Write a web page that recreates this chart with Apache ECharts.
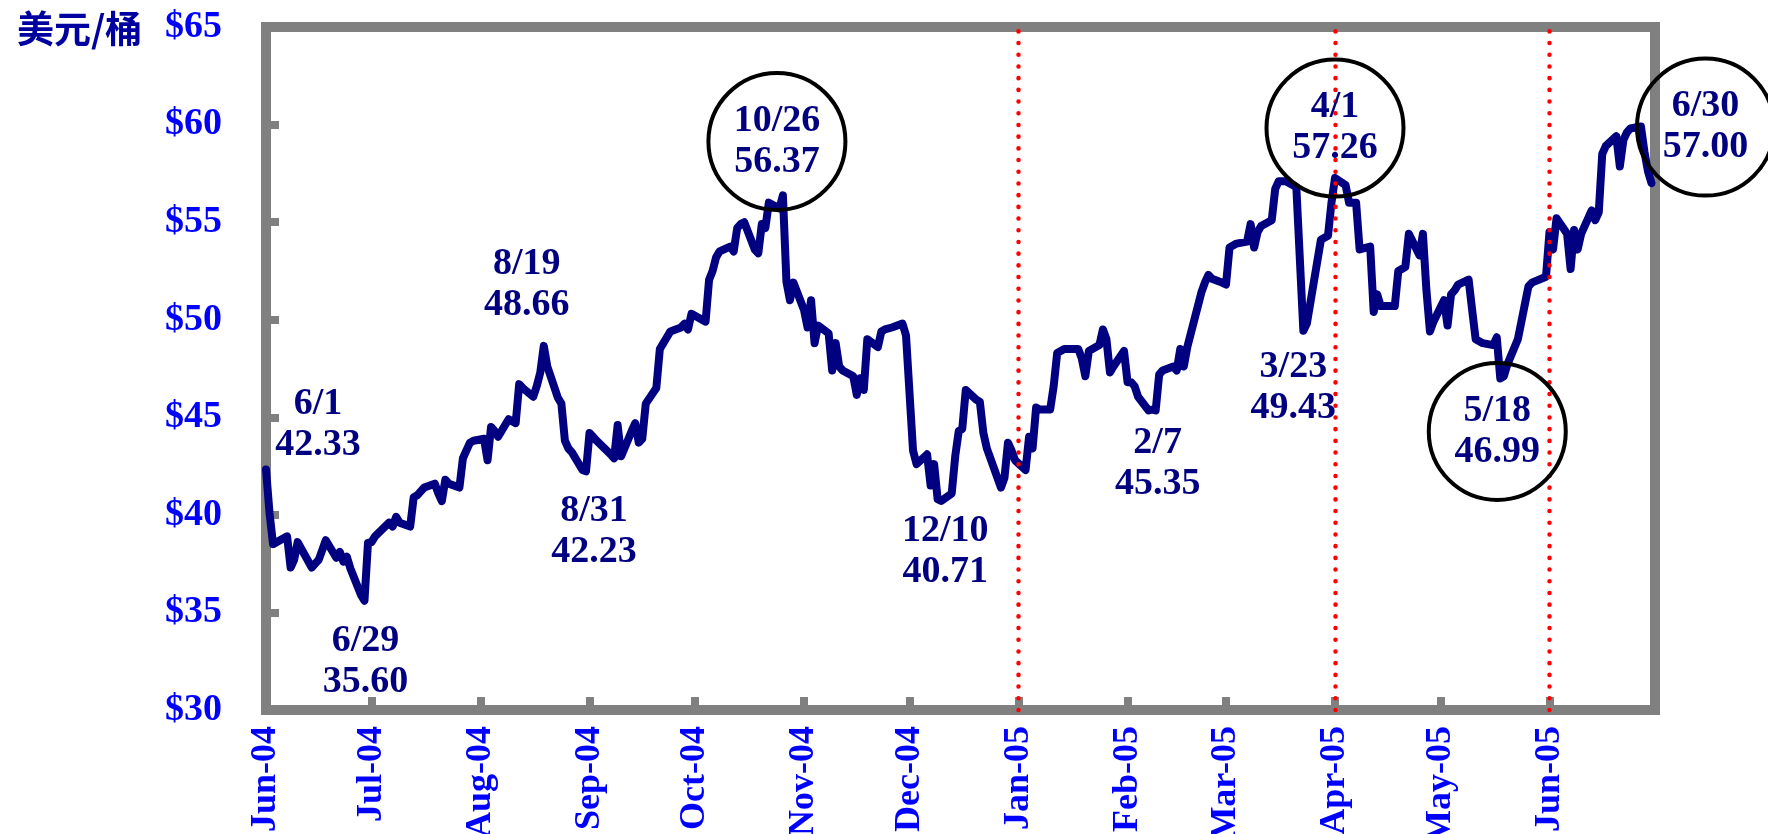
<!DOCTYPE html>
<html>
<head>
<meta charset="utf-8">
<title>原油價格</title>
<script src="https://cdn.jsdelivr.net/npm/echarts@6/dist/echarts.min.js"></script>
<style>
  html, body { margin: 0; padding: 0; background: #fff; }
  #main { width: 1768px; height: 834px; }
</style>
</head>
<body>
<div id="main"></div>
<script>
// 日期與價格
const dates = [
  '2004-06-01','2004-06-02','2004-06-03','2004-06-04','2004-06-07','2004-06-08','2004-06-09','2004-06-10',
  '2004-06-14','2004-06-15','2004-06-16','2004-06-17','2004-06-18','2004-06-21','2004-06-22','2004-06-23',
  '2004-06-24','2004-06-25','2004-06-28','2004-06-29','2004-06-30',
  '2004-07-01','2004-07-02','2004-07-06','2004-07-07','2004-07-08','2004-07-09','2004-07-12','2004-07-13',
  '2004-07-14','2004-07-15','2004-07-16','2004-07-19','2004-07-20','2004-07-21','2004-07-22','2004-07-23',
  '2004-07-26','2004-07-27','2004-07-28','2004-07-29','2004-07-30',
  '2004-08-02','2004-08-03','2004-08-04','2004-08-05','2004-08-06','2004-08-09','2004-08-10','2004-08-11',
  '2004-08-12','2004-08-13','2004-08-16','2004-08-17','2004-08-18','2004-08-19','2004-08-20','2004-08-23',
  '2004-08-24','2004-08-25','2004-08-26','2004-08-27','2004-08-30','2004-08-31',
  '2004-09-01','2004-09-02','2004-09-03','2004-09-07','2004-09-08','2004-09-09','2004-09-10','2004-09-13',
  '2004-09-14','2004-09-15','2004-09-16','2004-09-17','2004-09-20','2004-09-21','2004-09-22','2004-09-23',
  '2004-09-24','2004-09-27','2004-09-28','2004-09-29','2004-09-30',
  '2004-10-01','2004-10-04','2004-10-05','2004-10-06','2004-10-07','2004-10-08','2004-10-11','2004-10-12',
  '2004-10-13','2004-10-14','2004-10-15','2004-10-18','2004-10-19','2004-10-20','2004-10-21','2004-10-22',
  '2004-10-25','2004-10-26','2004-10-27','2004-10-28','2004-10-29',
  '2004-11-01','2004-11-02','2004-11-03','2004-11-04','2004-11-05','2004-11-08','2004-11-09','2004-11-10',
  '2004-11-11','2004-11-12','2004-11-15','2004-11-16','2004-11-17','2004-11-18','2004-11-19','2004-11-22',
  '2004-11-23','2004-11-24','2004-11-26','2004-11-29','2004-11-30',
  '2004-12-02','2004-12-03','2004-12-06','2004-12-07','2004-12-08','2004-12-09','2004-12-10','2004-12-13',
  '2004-12-14','2004-12-15','2004-12-16','2004-12-17','2004-12-20','2004-12-21','2004-12-22','2004-12-23',
  '2004-12-27','2004-12-28','2004-12-29','2004-12-30','2004-12-31',
  '2005-01-03','2005-01-04','2005-01-05','2005-01-06','2005-01-07','2005-01-10','2005-01-11','2005-01-12',
  '2005-01-13','2005-01-14','2005-01-18','2005-01-19','2005-01-20','2005-01-21','2005-01-24','2005-01-25',
  '2005-01-26','2005-01-27','2005-01-28','2005-01-31',
  '2005-02-01','2005-02-02','2005-02-03','2005-02-04','2005-02-07','2005-02-08','2005-02-09','2005-02-10',
  '2005-02-11','2005-02-14','2005-02-15','2005-02-16','2005-02-17','2005-02-18','2005-02-22','2005-02-23',
  '2005-02-24','2005-02-25','2005-02-28',
  '2005-03-01','2005-03-02','2005-03-03','2005-03-04','2005-03-07','2005-03-08','2005-03-09','2005-03-10',
  '2005-03-11','2005-03-14','2005-03-15','2005-03-16','2005-03-17','2005-03-18','2005-03-21','2005-03-23',
  '2005-03-24','2005-03-28','2005-03-29','2005-03-30','2005-03-31',
  '2005-04-01','2005-04-04','2005-04-05','2005-04-06','2005-04-07','2005-04-08','2005-04-11','2005-04-12',
  '2005-04-13','2005-04-14','2005-04-15','2005-04-18','2005-04-19','2005-04-20','2005-04-21','2005-04-22',
  '2005-04-25','2005-04-26','2005-04-27','2005-04-28','2005-04-29',
  '2005-05-02','2005-05-03','2005-05-04','2005-05-05','2005-05-06','2005-05-09','2005-05-10','2005-05-11',
  '2005-05-12','2005-05-13','2005-05-16','2005-05-17','2005-05-18','2005-05-19','2005-05-20','2005-05-23',
  '2005-05-24','2005-05-25','2005-05-26','2005-05-27','2005-05-31',
  '2005-06-01','2005-06-02','2005-06-03','2005-06-06','2005-06-07','2005-06-08','2005-06-09','2005-06-10',
  '2005-06-13','2005-06-14','2005-06-15','2005-06-16','2005-06-17','2005-06-20','2005-06-21','2005-06-22',
  '2005-06-23','2005-06-24','2005-06-27','2005-06-28','2005-06-29','2005-06-30'
];

const prices = [
  42.33, 40.1, 38.5, 38.6, 38.9, 37.3, 37.7, 38.6,
  37.3, 37.5, 37.7, 38.2, 38.7, 37.8, 38.1, 37.6,
  37.85, 37.25, 35.9, 35.60, 38.56,
  38.6, 38.9, 39.6, 39.4, 39.9, 39.6, 39.4, 40.9,
  41.0, 41.2, 41.4, 41.6, 41.1, 40.7, 41.8, 41.6,
  41.4, 42.9, 43.3, 43.7, 43.8,
  43.9, 42.8, 44.5, 44.3, 44.0, 44.9, 44.8, 44.7,
  46.7, 46.5, 46.05, 46.6, 47.3, 48.66, 47.6, 46.0,
  45.7, 43.8, 43.4, 43.2, 42.3, 42.23,
  44.2, 44.0, 43.8, 43.1, 42.9, 44.6, 43.0, 44.3,
  44.7, 43.7, 43.9, 45.7, 46.5, 48.5, 48.8, 49.1,
  49.4, 49.6, 49.8, 49.5, 50.3,
  50.2, 49.9, 52.05, 52.5, 53.2, 53.5, 53.75, 53.5,
  54.7, 54.9, 55.0, 53.6, 53.4, 54.9, 54.7, 56.0,
  55.7, 56.37, 51.95, 51.0, 51.9,
  50.5, 49.6, 51.0, 48.8, 49.7, 49.3, 47.4, 48.8,
  47.6, 47.4, 47.1, 46.15, 47.0, 46.4, 49.0, 48.6,
  49.4, 49.5, 49.6, 49.8, 49.2,
  43.3, 42.6, 43.1, 41.5, 42.6, 40.8, 40.71, 41.1,
  43.0, 44.3, 44.4, 46.4, 45.9, 45.8, 44.2, 43.4,
  41.4, 41.9, 43.7, 43.3, 42.8,
  42.3, 44.0, 43.4, 45.5, 45.4, 45.4, 46.6, 48.3,
  48.4, 48.5, 48.5, 48.0, 47.1, 48.4, 48.7, 49.5,
  49.0, 47.3, 47.6, 48.4,
  46.8, 46.8, 46.6, 46.05, 45.35, 45.4, 45.35, 47.2,
  47.4, 47.6, 47.4, 48.5, 47.6, 48.6, 51.4, 51.9,
  52.3, 52.1, 51.9,
  51.8, 53.7, 53.8, 53.9, 54.0, 54.9, 53.7, 54.5,
  54.8, 55.1, 56.7, 57.1, 57.1, 57.1, 56.8, 49.43,
  49.8, 54.1, 54.2, 54.3, 56.0,
  57.26, 56.9, 56.0, 56.0, 56.0, 53.6, 53.75, 50.4,
  51.3, 50.7, 50.7, 50.7, 52.5, 52.6, 52.7, 54.4,
  53.3, 54.4, 51.5, 49.4, 49.9,
  51.0, 49.7, 51.3, 51.5, 51.8, 52.05, 50.5, 49.0,
  48.9, 48.8, 48.7, 49.1, 46.99, 47.1, 47.7, 49.0,
  49.9, 50.8, 51.7, 51.9, 52.2,
  54.5, 53.6, 55.2, 54.4, 52.6, 54.6, 53.6, 54.4,
  55.6, 55.1, 55.5, 58.5, 58.9, 59.4, 57.85, 59.2,
  59.6, 59.8, 59.9, 58.6, 57.6, 57.00
];

// 月份刻度
const monthStarts = ['2004-06-01','2004-07-01','2004-08-01','2004-09-01','2004-10-01','2004-11-01',
  '2004-12-01','2005-01-01','2005-02-01','2005-03-01','2005-04-01','2005-05-01','2005-06-01'];
const monthLabels = ['Jun-04','Jul-04','Aug-04','Sep-04','Oct-04','Nov-04',
  'Dec-04','Jan-05','Feb-05','Mar-05','Apr-05','May-05','Jun-05'];
const xStart = '2004-06-01';
const xEnd = '2005-07-01';

// 紅色虛線
const redLineDates = ['2005-01-01','2005-04-01','2005-06-01'];

// 標註
const annoDates = ['2004-06-01','2004-06-29','2004-08-19','2004-08-31','2004-10-26','2004-12-10',
  '2005-02-07','2005-03-23','2005-04-01','2005-05-18','2005-06-30'];
const annoText = ['6/1','6/29','8/19','8/31','10/26','12/10','2/7','3/23','4/1','5/18','6/30'];
const annoValues = [42.33, 35.60, 48.66, 42.23, 56.37, 40.71, 45.35, 49.43, 57.26, 46.99, 57.00];
const annoCircled = [false, false, false, false, true, false, false, false, true, true, true];
// 標註文字相對資料點的位移 (px)
const annoOffsets = [[52,-45],[1,61],[-17,-61],[8,60],[-6,-54],[4,51],[9,53],[-10,57],[0,-50],[-3,53],[54,-56]];

const DAY = 86400000;
function dayOf(s) {
  const p = s.split('-').map(Number);
  return (Date.UTC(p[0], p[1] - 1, p[2]) - Date.UTC(2004, 5, 1)) / DAY;
}

const serif = "'Liberation Serif', 'Times New Roman', serif";
const monthTicks = monthStarts.map(dayOf);
const labelMap = {};
monthTicks.forEach((v, i) => { labelMap[v] = monthLabels[i]; });

const chart = echarts.init(document.getElementById('main'));

chart.setOption({
  animation: false,
  backgroundColor: '#ffffff',
  title: {
    text: '美元/桶',
    left: 12,
    top: 5,
    textStyle: {
      color: '#0000A0',
      fontSize: 37,
      fontWeight: 'bold',
      fontFamily: "'Noto Sans CJK TC', 'Noto Sans CJK SC', sans-serif"
    }
  },
  grid: {
    left: 266, right: 113, top: 27, bottom: 124,
    show: true,
    borderColor: '#808080',
    borderWidth: 10,
    outerBoundsMode: 'none'
  },
  xAxis: {
    type: 'value',
    min: dayOf(xStart),
    max: dayOf(xEnd),
    axisLine: {show: false},
    splitLine: {show: false},
    axisTick: {
      show: true, inside: true, length: 13,
      customValues: monthTicks,
      lineStyle: {color: '#808080', width: 8}
    },
    axisLabel: {
      customValues: monthTicks,
      rotate: 90,
      margin: 16,
      color: '#0000FF',
      fontSize: 36,
      fontWeight: 'bold',
      fontFamily: serif,
      formatter: v => labelMap[v] || ''
    }
  },
  yAxis: {
    type: 'value',
    min: 30, max: 65, interval: 5,
    axisLine: {show: false},
    splitLine: {show: false},
    axisTick: {show: true, inside: true, length: 13, lineStyle: {color: '#808080', width: 8}},
    axisLabel: {
      margin: 44,
      color: '#0000FF',
      fontSize: 38,
      fontWeight: 'bold',
      fontFamily: serif,
      formatter: v => '$' + v
    }
  },
  series: [{
    type: 'line',
    data: dates.map((d, i) => [dayOf(d), prices[i]]),
    showSymbol: false,
    silent: true,
    lineStyle: {color: '#000080', width: 8, join: 'round', cap: 'round'},
    markLine: {
      silent: true,
      symbol: 'none',
      label: {show: false},
      lineStyle: {color: '#FF0000', width: 4.5, type: [0.1, 11.6], cap: 'round'},
      emphasis: {disabled: true},
      data: redLineDates.map(d => ({xAxis: dayOf(d)}))
    },
    markPoint: {
      silent: true,
      emphasis: {disabled: true},
      data: annoDates.map((d, i) => ({
        coord: [dayOf(d), annoValues[i]],
        symbol: 'circle',
        symbolSize: annoCircled[i] ? 137 : 1,
        symbolOffset: annoOffsets[i],
        itemStyle: annoCircled[i]
          ? {color: 'rgba(0,0,0,0)', borderColor: '#000000', borderWidth: 4}
          : {color: 'rgba(0,0,0,0)', borderWidth: 0},
        label: {
          show: true,
          position: 'inside',
          formatter: annoText[i] + '\n' + annoValues[i].toFixed(2),
          color: '#000080',
          fontSize: 38,
          fontWeight: 'bold',
          fontFamily: serif,
          lineHeight: 41
        }
      }))
    }
  }]
});
</script>
</body>
</html>
